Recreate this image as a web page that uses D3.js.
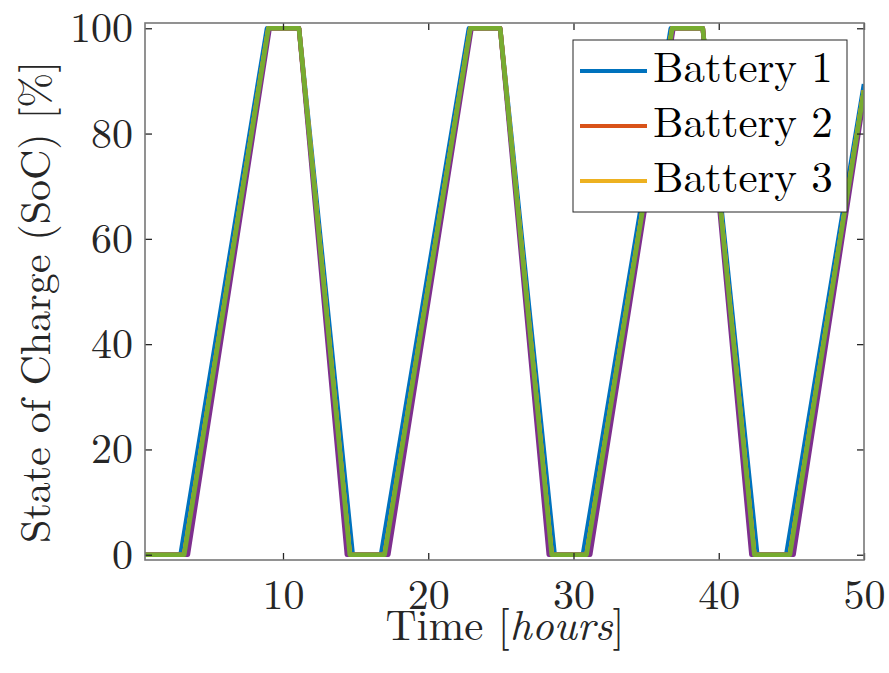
<!DOCTYPE html>
<html>
<head>
<meta charset="utf-8">
<script src="https://cdn.jsdelivr.net/npm/d3@7"></script>
<style>
  html, body { margin: 0; padding: 0; background: #fff; }
  svg { display: block; }
</style>
</head>
<body>
<svg id="chart" width="889" height="673"></svg>
<script>
// State of charge breakpoints [time in hours, SoC in %] for each battery
const battery1 = [[0.5,0],[2.95,0],[8.9,100],[11.1,100],[14.8,0],[16.75,0],[22.8,100],[24.95,100],[28.7,0],[30.65,0],[36.7,100],[38.9,100],[42.65,0],[44.65,0],[50,89.4]];
const battery2 = [[0.5,0],[3.2,0],[9.0,100],[11.1,100],[14.6,0],[17.0,0],[22.9,100],[24.95,100],[28.5,0],[30.9,0],[36.8,100],[38.9,100],[42.45,0],[44.9,0],[50,88.2]];
const battery3 = [[0.5,0],[3.2,0],[9.0,100],[11.1,100],[14.6,0],[17.0,0],[22.9,100],[24.95,100],[28.5,0],[30.9,0],[36.8,100],[38.9,100],[42.45,0],[44.9,0],[50,88.2]];
const battery4 = [[0.5,0],[3.45,0],[9.08,100],[11.1,100],[14.4,0],[17.25,0],[22.98,100],[24.95,100],[28.3,0],[31.15,0],[36.88,100],[38.9,100],[42.25,0],[45.15,0],[50,86.8]];
const battery5 = [[0.5,0],[3.2,0],[9.0,100],[11.1,100],[14.6,0],[17.0,0],[22.9,100],[24.95,100],[28.5,0],[30.9,0],[36.8,100],[38.9,100],[42.45,0],[44.9,0],[50,88.2]];

const seriesNames = ["Battery 1", "Battery 2", "Battery 3", "Battery 4", "Battery 5"];
const seriesData = [battery1, battery2, battery3, battery4, battery5];
const legendNames = ["Battery 1", "Battery 2", "Battery 3"];
const xTicks = [10, 20, 30, 40, 50];
const yTicks = [0, 20, 40, 60, 80, 100];
const xDomain = [0.5, 50];
const yDomain = [-1, 101];

// MATLAB default colour order
const colors = ["#0072BD", "#D95319", "#EDB120", "#7E2F8E", "#77AC30"];
const textFont = '"Latin Modern Roman", "CMU Serif", "Liberation Serif", serif';
const textColor = "#262626";

const svg = d3.select("#chart");
const plotLeft = 145, plotRight = 864, plotTop = 23, plotBottom = 560;

const x = d3.scaleLinear().domain(xDomain).range([plotLeft, plotRight]);
const y = d3.scaleLinear().domain(yDomain).range([plotBottom, plotTop]);

svg.append("defs").append("clipPath").attr("id", "plot-area")
  .append("rect").attr("x", plotLeft).attr("y", plotTop)
  .attr("width", plotRight - plotLeft).attr("height", plotBottom - plotTop);

// Series lines
const line = d3.line().x(d => x(d[0])).y(d => y(d[1]));
svg.append("g").attr("clip-path", "url(#plot-area)")
  .selectAll("path").data(seriesData).join("path")
  .attr("d", line)
  .attr("fill", "none")
  .attr("stroke", (d, i) => colors[i])
  .attr("stroke-width", 4.6)
  .attr("stroke-linejoin", "round");

// Axes with inward ticks on all four sides
const styleAxis = g => {
  g.select(".domain").remove();
  g.selectAll(".tick line").attr("stroke", textColor).attr("stroke-width", 1.3);
  g.selectAll(".tick text")
    .style("font-family", textFont).style("font-size", "42px")
    .attr("fill", textColor);
};

svg.append("g").attr("transform", `translate(0,${plotBottom})`)
  .call(d3.axisBottom(x).tickValues(xTicks).tickFormat(d3.format("d"))
    .tickSizeInner(-7).tickSizeOuter(0).tickPadding(19))
  .call(styleAxis);
svg.append("g").attr("transform", `translate(0,${plotTop})`)
  .call(d3.axisTop(x).tickValues(xTicks).tickFormat("")
    .tickSizeInner(-7).tickSizeOuter(0))
  .call(styleAxis);
svg.append("g").attr("transform", `translate(${plotLeft},0)`)
  .call(d3.axisLeft(y).tickValues(yTicks).tickFormat(d3.format("d"))
    .tickSizeInner(-7).tickSizeOuter(0).tickPadding(12))
  .call(styleAxis);
svg.append("g").attr("transform", `translate(${plotRight},0)`)
  .call(d3.axisRight(y).tickValues(yTicks).tickFormat("")
    .tickSizeInner(-7).tickSizeOuter(0))
  .call(styleAxis);

svg.append("rect")
  .attr("x", plotLeft).attr("y", plotTop)
  .attr("width", plotRight - plotLeft).attr("height", plotBottom - plotTop)
  .attr("fill", "none").attr("stroke", "#777").attr("stroke-width", 1.6);

// Axis titles
const xLabel = svg.append("text")
  .attr("x", 505).attr("y", 640)
  .attr("text-anchor", "middle")
  .style("font-family", textFont).style("font-size", "43px")
  .attr("fill", textColor);
xLabel.append("tspan").text("Time [");
xLabel.append("tspan").style("font-style", "italic").text("hours");
xLabel.append("tspan").text("]");

svg.append("text")
  .attr("transform", "translate(50,302) rotate(-90)")
  .attr("text-anchor", "middle")
  .style("font-family", textFont).style("font-size", "42px")
  .attr("fill", textColor)
  .text("State of Charge (SoC) [%]");

// Legend
const legend = svg.append("g");
legend.append("rect")
  .attr("x", 573).attr("y", 40).attr("width", 274).attr("height", 172)
  .attr("fill", "#fff").attr("stroke", textColor).attr("stroke-width", 1);
const entry = legend.selectAll("g.entry").data(legendNames).join("g")
  .attr("class", "entry")
  .attr("transform", (d, i) => `translate(0,${71 + i * 55})`);
entry.append("line")
  .attr("x1", 580).attr("x2", 647).attr("y1", 0).attr("y2", 0)
  .attr("stroke", (d, i) => colors[i]).attr("stroke-width", 4.2);
entry.append("text")
  .attr("x", 653).attr("y", 11)
  .style("font-family", textFont).style("font-size", "43px")
  .attr("fill", "#000")
  .text(d => d);
</script>
</body>
</html>
